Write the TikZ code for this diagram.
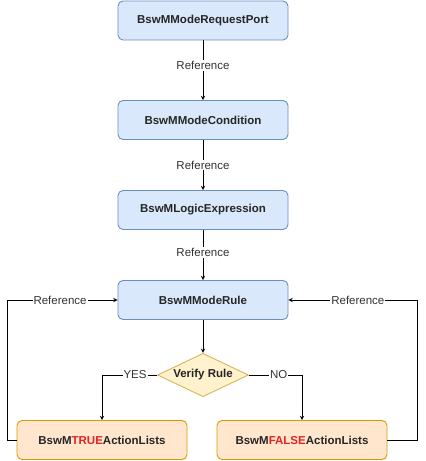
\documentclass[tikz,border=0pt]{standalone}
\usepackage{fontspec}
\setmainfont{Liberation Sans}
\usepackage{tikz}
\usetikzlibrary{arrows,shapes.geometric}

\definecolor{bluefill}{HTML}{DAE8FC}
\definecolor{bluedraw}{HTML}{6C8EBF}
\definecolor{orangefill}{HTML}{FFE6CC}
\definecolor{orangedraw}{HTML}{D79B00}
\definecolor{yellowfill}{HTML}{FFF2CC}
\definecolor{yellowdraw}{HTML}{D6B656}
\definecolor{redtext}{HTML}{E02424}

\tikzset{
  modebox/.style={draw=bluedraw, fill=bluefill, rounded corners=5pt, minimum width=170pt,
    minimum height=39pt, font=\fontsize{11.5}{13}\selectfont\bfseries, text=black!85},
  actionbox/.style={modebox, draw=orangedraw, fill=orangefill},
  lbl/.style={fill=white, inner sep=1pt, font=\fontsize{11.5}{13}\selectfont, text=black!80}
}

\begin{document}
\begin{tikzpicture}[x=1pt, y=-1pt, >=stealth, line width=0.9pt]
  \useasboundingbox (0,0) rectangle (426,461);
  \node[modebox] (port) at (203,20.5) {BswMModeRequestPort};
  \node[modebox] (cond) at (203,120) {BswMModeCondition};
  \node[modebox] (expr) at (203,210) {BswMLogicExpression};
  \node[modebox] (rule) at (203,300) {BswMModeRule};
  \node[diamond, draw=yellowdraw, fill=yellowfill, inner sep=0pt, minimum width=91pt,
    shape aspect=1.82, font=\fontsize{11.5}{13}\selectfont\bfseries, text=black!85]
    (verify) at (203,375) {Verify Rule};
  \node[actionbox] (true) at (102,440) {BswM\textcolor{redtext}{TRUE}ActionLists};
  \node[actionbox] (false) at (302,440) {BswM\textcolor{redtext}{FALSE}ActionLists};
  \coordinate (lc) at (7,440);
  \coordinate (rc) at (417,440);

  \path[->]
  (port) edge node [lbl, pos=0.42] {Reference} (cond)
  (cond) edge node [lbl] {Reference} (expr)
  (expr) edge node [lbl, pos=0.45] {Reference} (rule)
  (rule) edge (verify)
  ;
  \draw[->] (verify.west) -| node [lbl, pos=0.2] {YES} (true.north);
  \draw[->] (verify.east) -| node [lbl, pos=0.28] {NO} (false.north);
  \draw[->] (true.west) -- (lc) |- node [lbl, pos=0.74] {Reference} (rule.west);
  \draw[->] (false.east) -- (rc) |- node [lbl, pos=0.73] {Reference} (rule.east);
\end{tikzpicture}
\end{document}
